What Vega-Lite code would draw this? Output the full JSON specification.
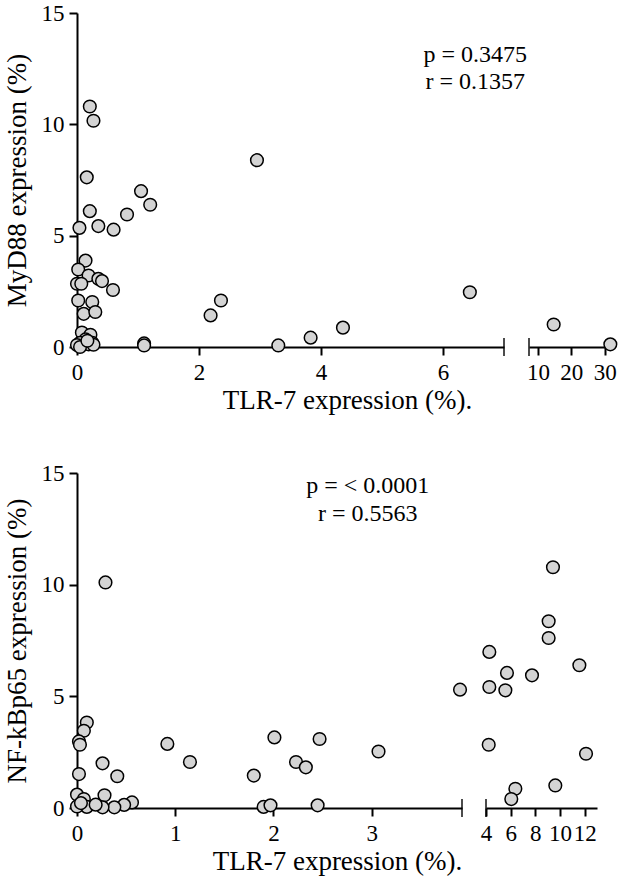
{
  "$schema": "https://vega.github.io/schema/vega-lite/v6.json",
  "padding": {"left": 3, "top": 2, "right": 5, "bottom": 5},
  "background": "white",
  "datasets": {
    "myd88": [
      {"tlr7": 0.21, "myd88": 10.8}, {"tlr7": 0.27, "myd88": 10.16}, {"tlr7": 2.95, "myd88": 8.39},
      {"tlr7": 0.16, "myd88": 7.62}, {"tlr7": 1.05, "myd88": 7.0}, {"tlr7": 1.2, "myd88": 6.39},
      {"tlr7": 0.82, "myd88": 5.95}, {"tlr7": 0.21, "myd88": 6.1}, {"tlr7": 0.04, "myd88": 5.35},
      {"tlr7": 0.35, "myd88": 5.43}, {"tlr7": 0.6, "myd88": 5.27}, {"tlr7": 0.14, "myd88": 3.88},
      {"tlr7": 0.02, "myd88": 3.48}, {"tlr7": 0.19, "myd88": 3.21}, {"tlr7": 0.35, "myd88": 3.06},
      {"tlr7": 0.41, "myd88": 2.96}, {"tlr7": 0.0, "myd88": 2.84}, {"tlr7": 0.07, "myd88": 2.84},
      {"tlr7": 0.59, "myd88": 2.56}, {"tlr7": 0.02, "myd88": 2.09}, {"tlr7": 0.25, "myd88": 2.02},
      {"tlr7": 0.11, "myd88": 1.49}, {"tlr7": 0.3, "myd88": 1.57}, {"tlr7": 0.08, "myd88": 0.65},
      {"tlr7": 0.22, "myd88": 0.55}, {"tlr7": 0.14, "myd88": 0.34}, {"tlr7": 0.05, "myd88": 0.19},
      {"tlr7": 0.25, "myd88": 0.19}, {"tlr7": 0.0, "myd88": 0.09}, {"tlr7": 0.19, "myd88": 0.12},
      {"tlr7": 0.27, "myd88": 0.1}, {"tlr7": 0.05, "myd88": 0.0}, {"tlr7": 0.17, "myd88": 0.28},
      {"tlr7": 1.1, "myd88": 0.16}, {"tlr7": 1.1, "myd88": 0.07}, {"tlr7": 2.19, "myd88": 1.42},
      {"tlr7": 2.36, "myd88": 2.09}, {"tlr7": 3.3, "myd88": 0.07}, {"tlr7": 3.83, "myd88": 0.42},
      {"tlr7": 4.36, "myd88": 0.87}, {"tlr7": 6.44, "myd88": 2.46}, {"tlr7": 14.7, "myd88": 1.01},
      {"tlr7": 31.7, "myd88": 0.12}
    ],
    "nfkb": [
      {"tlr7": 0.29, "nfkb": 10.1}, {"tlr7": 0.1, "nfkb": 3.83}, {"tlr7": 0.07, "nfkb": 3.46},
      {"tlr7": 0.02, "nfkb": 2.98}, {"tlr7": 0.03, "nfkb": 2.83}, {"tlr7": 0.26, "nfkb": 2.0},
      {"tlr7": 0.41, "nfkb": 1.42}, {"tlr7": 0.02, "nfkb": 1.52}, {"tlr7": 0.92, "nfkb": 2.87},
      {"tlr7": 1.15, "nfkb": 2.06}, {"tlr7": 1.8, "nfkb": 1.45}, {"tlr7": 2.01, "nfkb": 3.16},
      {"tlr7": 2.23, "nfkb": 2.06}, {"tlr7": 2.33, "nfkb": 1.82}, {"tlr7": 2.47, "nfkb": 3.09},
      {"tlr7": 2.45, "nfkb": 0.12}, {"tlr7": 1.9, "nfkb": 0.05}, {"tlr7": 1.97, "nfkb": 0.12},
      {"tlr7": 3.07, "nfkb": 2.53}, {"tlr7": 0.0, "nfkb": 0.6}, {"tlr7": 0.07, "nfkb": 0.4},
      {"tlr7": 0.28, "nfkb": 0.57}, {"tlr7": 0.56, "nfkb": 0.25}, {"tlr7": 0.48, "nfkb": 0.14},
      {"tlr7": 0.38, "nfkb": 0.03}, {"tlr7": 0.26, "nfkb": 0.03}, {"tlr7": 0.1, "nfkb": 0.05},
      {"tlr7": 0.19, "nfkb": 0.15}, {"tlr7": 0.0, "nfkb": 0.07}, {"tlr7": 0.04, "nfkb": 0.22},
      {"tlr7": 3.9, "nfkb": 5.3}, {"tlr7": 4.27, "nfkb": 6.99}, {"tlr7": 5.7, "nfkb": 6.05},
      {"tlr7": 4.27, "nfkb": 5.42}, {"tlr7": 5.57, "nfkb": 5.27}, {"tlr7": 7.73, "nfkb": 5.94},
      {"tlr7": 9.43, "nfkb": 10.78}, {"tlr7": 9.08, "nfkb": 8.36}, {"tlr7": 9.08, "nfkb": 7.61},
      {"tlr7": 11.57, "nfkb": 6.39}, {"tlr7": 4.22, "nfkb": 2.83}, {"tlr7": 12.11, "nfkb": 2.43},
      {"tlr7": 9.62, "nfkb": 1.01}, {"tlr7": 6.38, "nfkb": 0.86}, {"tlr7": 6.05, "nfkb": 0.4}
    ]
  },
  "vconcat": [
    {
      "spacing": 25,
      "bounds": "flush",
      "hconcat": [
        {
          "width": 427,
          "height": 334,
          "encoding": {
            "x": {
              "field": "tlr7",
              "type": "quantitative",
              "scale": {"domain": [0, 7], "nice": false, "zero": false},
              "axis": {"values": [0, 2, 4, 6], "title": "TLR-7 expression (%).", "titleX": 270}
            },
            "y": {
              "field": "myd88",
              "type": "quantitative",
              "scale": {"domain": [0, 15], "nice": false},
              "axis": {"values": [0, 5, 10, 15], "title": "MyD88 expression (%)"}
            }
          },
          "layer": [
            {
              "data": {"values": [{"tlr7": 7, "myd88": 0}]},
              "mark": {"type": "tick", "orient": "vertical", "size": 18, "thickness": 2, "color": "black"}
            },
            {
              "data": {"values": [
                {"tlr7": 6.53, "myd88": 12.82, "label": "p = 0.3475"},
                {"tlr7": 6.53, "myd88": 11.6, "label": "r = 0.1357"}
              ]},
              "mark": {"type": "text", "fontSize": 24, "align": "center", "baseline": "alphabetic", "color": "black"},
              "encoding": {"text": {"field": "label"}}
            },
            {
              "data": {"name": "myd88"},
              "transform": [{"filter": "datum.tlr7 <= 7"}],
              "mark": {"type": "circle", "size": 160, "fill": "#d4d4d4", "stroke": "black", "strokeWidth": 1.5, "opacity": 1}
            }
          ]
        },
        {
          "width": 83,
          "height": 334,
          "encoding": {
            "x": {
              "field": "tlr7",
              "type": "quantitative",
              "scale": {"domain": [7.3, 32.2], "nice": false, "zero": false},
              "axis": {"values": [10, 20, 30], "title": null}
            },
            "y": {
              "field": "myd88",
              "type": "quantitative",
              "scale": {"domain": [0, 15], "nice": false},
              "axis": null
            }
          },
          "layer": [
            {
              "data": {"values": [{"tlr7": 7.3, "myd88": 0}]},
              "mark": {"type": "tick", "orient": "vertical", "size": 18, "thickness": 2, "color": "black"}
            },
            {
              "data": {"name": "myd88"},
              "transform": [{"filter": "datum.tlr7 > 7"}],
              "mark": {"type": "circle", "size": 160, "fill": "#d4d4d4", "stroke": "black", "strokeWidth": 1.5, "opacity": 1}
            }
          ]
        }
      ]
    },
    {
      "spacing": 24,
      "bounds": "flush",
      "hconcat": [
        {
          "width": 385,
          "height": 335,
          "encoding": {
            "x": {
              "field": "tlr7",
              "type": "quantitative",
              "scale": {"domain": [0, 3.92], "nice": false, "zero": false},
              "axis": {"values": [0, 1, 2, 3], "title": "TLR-7 expression (%).", "titleX": 260}
            },
            "y": {
              "field": "nfkb",
              "type": "quantitative",
              "scale": {"domain": [0, 15], "nice": false},
              "axis": {"values": [0, 5, 10, 15], "title": "NF-kBp65 expression (%)"}
            }
          },
          "layer": [
            {
              "data": {"values": [{"tlr7": 3.92, "nfkb": 0}]},
              "mark": {"type": "tick", "orient": "vertical", "size": 18, "thickness": 2, "color": "black"}
            },
            {
              "data": {"values": [
                {"tlr7": 2.96, "nfkb": 14.1, "label": "p = < 0.0001"},
                {"tlr7": 2.96, "nfkb": 12.87, "label": "r = 0.5563"}
              ]},
              "mark": {"type": "text", "fontSize": 24, "align": "center", "baseline": "alphabetic", "color": "black"},
              "encoding": {"text": {"field": "label"}}
            },
            {
              "data": {"name": "nfkb"},
              "transform": [{"filter": "datum.tlr7 < 3.95"}],
              "mark": {"type": "circle", "size": 160, "fill": "#d4d4d4", "stroke": "black", "strokeWidth": 1.5, "opacity": 1}
            }
          ]
        },
        {
          "width": 111,
          "height": 335,
          "encoding": {
            "x": {
              "field": "tlr7",
              "type": "quantitative",
              "scale": {"domain": [4, 13], "nice": false, "zero": false},
              "axis": {"values": [4, 6, 8, 10, 12], "title": null}
            },
            "y": {
              "field": "nfkb",
              "type": "quantitative",
              "scale": {"domain": [0, 15], "nice": false},
              "axis": null
            }
          },
          "layer": [
            {
              "data": {"values": [{"tlr7": 4, "nfkb": 0}]},
              "mark": {"type": "tick", "orient": "vertical", "size": 18, "thickness": 2, "color": "black"}
            },
            {
              "data": {"name": "nfkb"},
              "transform": [{"filter": "datum.tlr7 >= 3.95"}],
              "mark": {"type": "circle", "size": 160, "fill": "#d4d4d4", "stroke": "black", "strokeWidth": 1.5, "opacity": 1}
            }
          ]
        }
      ]
    }
  ],
  "spacing": 49,
  "config": {
    "font": "Liberation Serif, Times New Roman, DejaVu Serif, serif",
    "text": {"font": "Liberation Serif, Times New Roman, DejaVu Serif, serif"},
    "view": {"stroke": null},
    "axis": {
      "grid": false,
      "domainColor": "black",
      "domainWidth": 2,
      "tickColor": "black",
      "tickWidth": 2,
      "tickSize": 8,
      "labelFont": "Liberation Serif, Times New Roman, DejaVu Serif, serif",
      "titleFont": "Liberation Serif, Times New Roman, DejaVu Serif, serif",
      "labelFontSize": 23,
      "labelColor": "black",
      "labelFlush": false,
      "labelOverlap": false,
      "titleFontSize": 27,
      "titleFontWeight": "normal",
      "titleColor": "black"
    },
    "axisX": {"labelPadding": 6, "titlePadding": 3},
    "axisY": {"labelPadding": 5, "titlePadding": 10}
  }
}
